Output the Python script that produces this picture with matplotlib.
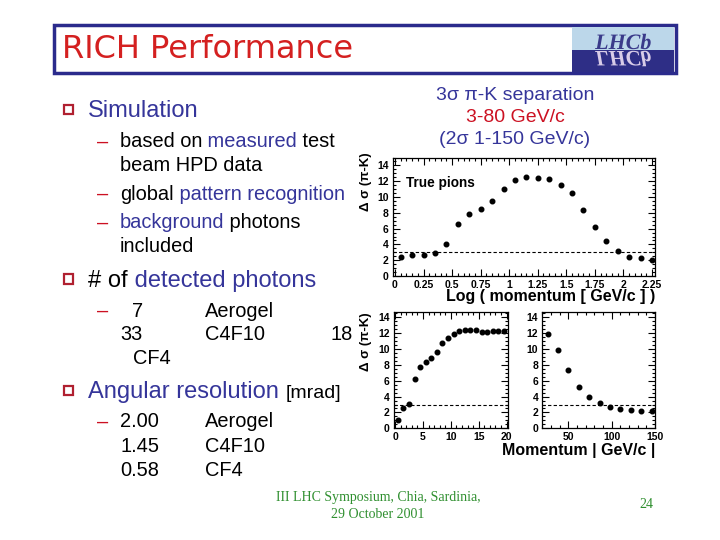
import matplotlib
matplotlib.use("Agg")
import matplotlib.pyplot as plt
from matplotlib.patches import Rectangle, PathPatch
from matplotlib.ticker import MultipleLocator
from matplotlib.textpath import TextPath
from matplotlib.font_manager import FontProperties
from matplotlib.transforms import Affine2D

plt.rcParams['font.family'] = ['Liberation Sans', 'DejaVu Sans']

# separation vs log10(momentum)
log_p = [0.05, 0.15, 0.25, 0.35, 0.45, 0.55, 0.65, 0.75, 0.85, 0.95, 1.05, 1.15,
         1.25, 1.35, 1.45, 1.55, 1.65, 1.75, 1.85, 1.95, 2.05, 2.15, 2.25]
sep_log = [2.35, 2.65, 2.65, 2.86, 4.0, 6.56, 7.9, 8.5, 9.46, 11.05, 12.19, 12.48,
           12.36, 12.23, 11.56, 10.47, 8.32, 6.26, 4.41, 3.15, 2.44, 2.23, 2.02]

# separation vs momentum, low range
p_low = [0.5, 1.5, 2.5, 3.5, 4.5, 5.5, 6.5, 7.5, 8.5, 9.5,
         10.5, 11.5, 12.5, 13.5, 14.5, 15.5, 16.5, 17.5, 18.5, 19.5]
sep_low = [1.05, 2.6, 3.1, 6.18, 7.78, 8.32, 8.83, 9.63, 10.72, 11.35,
           11.85, 12.27, 12.4, 12.4, 12.4, 12.19, 12.19, 12.23, 12.27, 12.27]

# separation vs momentum, high range
p_high = [26, 38, 50, 62, 74, 86, 98, 110, 122, 134, 146]
sep_high = [11.85, 9.88, 7.31, 5.25, 3.99, 3.15, 2.65, 2.44, 2.27, 2.14, 2.14]

threshold = 3

log_ticks = [0, 0.25, 0.5, 0.75, 1, 1.25, 1.5, 1.75, 2, 2.25]
log_labels = ['0', '0.25', '0.5', '0.75', '1', '1.25', '1.5', '1.75', '2', '2.25']
y_ticks = [0, 2, 4, 6, 8, 10, 12, 14]

BLUE = '#35359a'
RED = '#cc1122'
GREEN = '#2f8f2f'

W, H = 720, 540
fig = plt.figure(figsize=(7.2, 5.4), dpi=100)
bg = fig.add_axes([0, 0, 1, 1])
bg.set_xlim(0, W)
bg.set_ylim(H, 0)
bg.axis('off')


def line(x, y, parts, size=14.4):
    # mixed-colour text, chained left to right on one baseline
    t = None
    for s, c in parts:
        if t is None:
            t = bg.text(x, y, s, color=c, fontsize=size, va='baseline')
        else:
            t = bg.annotate(s, xy=(1, 0), xycoords=t, color=c, fontsize=size, va='bottom')
    return t


def bullet(y):
    bg.add_patch(Rectangle((63.5, y - 4.8), 9.5, 9.5, fc='white', ec='#b02030', lw=1.6))


# title bar
bg.add_patch(Rectangle((54, 25), 622, 48, fill=False, ec='#2b2b8c', lw=2.5))
bg.text(62, 49, 'RICH Performance', fontsize=23, color='#d42020',
        family='DejaVu Sans', va='center')
bg.add_patch(Rectangle((572, 27), 102, 23, fc='#bcd7ea', ec='none'))
bg.add_patch(Rectangle((572, 50), 102, 22, fc='#2e2e86', ec='none'))
fp = FontProperties(family='Liberation Serif', style='italic', weight='bold')
tp = TextPath((0, 0), 'LHCb', size=1, prop=fp)
tw = tp.get_extents().width * 22
x0 = 623 - tw / 2
bg.add_patch(PathPatch(Affine2D().scale(22, -22).translate(x0, 49).transform_path(tp),
                       fc='#3a3a8a', ec='none'))
bg.add_patch(PathPatch(Affine2D().scale(22, 22).translate(x0, 51).transform_path(tp),
                       fc='#d8cce8', ec='none'))

# left column text
bullet(109.3)
line(88, 116.7, [('Simulation', BLUE)], 17)
for yb, parts in [(147.3, [('based on', 'black'), (' measured', BLUE), (' test', 'black')]),
                  (200, [('global', 'black'), (' pattern recognition', BLUE)]),
                  (228.3, [('background', BLUE), (' photons', 'black')])]:
    bg.text(97, yb, '–', color=RED, fontsize=14.4, va='baseline')
    line(120, yb, parts)
line(120, 171, [('beam HPD data', 'black')])
line(120, 252.3, [('included', 'black')])

bullet(279)
line(88, 286.7, [('# of', 'black'), (' detected photons', BLUE)], 17)
bg.text(97, 316.7, '–', color=RED, fontsize=14.4, va='baseline')
line(132, 316.7, [('7', 'black')])
line(205, 316.7, [('Aerogel', 'black')])
line(120, 340, [('33', 'black')])
line(205, 340, [('C4F10', 'black')])
line(330, 340, [('18', 'black')])
line(133, 364, [('CF4', 'black')])

bullet(390.5)
line(88, 398.3, [('Angular resolution', BLUE)], 17)
bg.text(286, 398.3, '[mrad]', fontsize=14, va='baseline')
bg.text(97, 427.3, '–', color=RED, fontsize=14.4, va='baseline')
for yb, num, gas in [(427.3, '2.00', 'Aerogel'), (451.7, '1.45', 'C4F10'), (476, '0.58', 'CF4')]:
    line(120, yb, [(num, 'black')])
    line(205, yb, [(gas, 'black')])

# right header
bg.text(515, 100, '3σ π-K separation', color=BLUE, fontsize=14, ha='center', va='baseline')
bg.text(515, 122, '3-80 GeV/c', color=RED, fontsize=14, ha='center', va='baseline')
bg.text(515, 144.5, '(2σ 1-150 GeV/c)', color=BLUE, fontsize=14, ha='center', va='baseline')

# footer
bg.text(378, 497.5, 'III LHC Symposium, Chia, Sardinia,', color=GREEN, fontsize=10,
        family='Liberation Serif', ha='center', va='center')
bg.text(378, 514.5, '29 October 2001', color=GREEN, fontsize=10,
        family='Liberation Serif', ha='center', va='center')
bg.text(646, 504, '24', color=GREEN, fontsize=10, family='Liberation Serif',
        ha='center', va='center')


def ax_at(l, t, r, b):
    return fig.add_axes([l / W, 1 - b / H, (r - l) / W, (b - t) / H])


def style(ax, xticks, xlabels, xminor, ytop):
    ax.set_ylim(0, ytop)
    ax.set_yticks(y_ticks, [str(v) for v in y_ticks], fontweight='bold')
    ax.set_xticks(xticks, xlabels, fontweight='bold')
    ax.yaxis.set_minor_locator(MultipleLocator(0.5))
    ax.xaxis.set_minor_locator(MultipleLocator(xminor))
    ax.tick_params(which='both', direction='in', top=True, right=True,
                   labelsize=7.5, width=0.8, pad=3)
    ax.tick_params(which='major', length=5)
    ax.tick_params(which='minor', length=2.5)
    for sp in ax.spines.values():
        sp.set_linewidth(0.9)
    ax.axhline(threshold, color='k', lw=0.8, ls=(0, (3, 2)))


ax1 = ax_at(392.7, 157.5, 655, 276)
ax1.plot(log_p, sep_log, 'o', ms=3.3, color='k', clip_on=False)
style(ax1, log_ticks, log_labels, 0.05, 15)
ax1.set_xlim(-0.02, 2.276)
ax1.text(0.05, 0.785, 'True pions', transform=ax1.transAxes, fontsize=9.8,
         fontweight='bold', va='center')

ax2 = ax_at(394, 311.7, 507.7, 428.3)
ax2.plot(p_low, sep_low, 'o', ms=3.3, color='k', clip_on=False)
style(ax2, [0, 5, 10, 15, 20], ['0', '5', '10', '15', '20'], 1, 14.7)
ax2.set_xlim(-0.2, 20.2)

ax3 = ax_at(542.3, 311.7, 655, 428.3)
ax3.plot(p_high, sep_high, 'o', ms=3.3, color='k', clip_on=False)
style(ax3, [50, 100, 150], ['50', '100', '150'], 10, 14.7)
ax3.set_xlim(20, 150)

for yc in (182, 342):
    bg.text(366, yc, 'Δ σ (π-K)', rotation=90, ha='center', va='center',
            fontsize=9.5, fontweight='bold')
bg.text(655, 297, 'Log ( momentum [ GeV/c ] )', ha='right', va='center',
        fontsize=11.5, fontweight='bold')
bg.text(655, 451, 'Momentum | GeV/c |', ha='right', va='center',
        fontsize=11.5, fontweight='bold')

fig.savefig('out.png', dpi=100)
